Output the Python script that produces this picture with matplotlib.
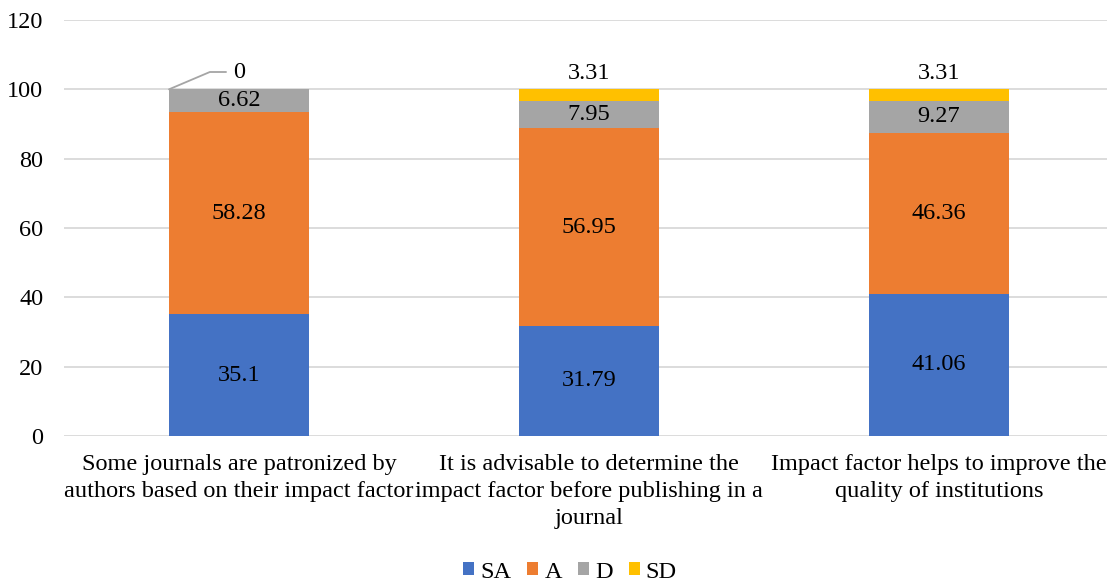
import matplotlib
matplotlib.use("Agg")
import matplotlib.pyplot as plt
import numpy as np

categories = ["Some journals are patronized by\nauthors based on their impact factor",
              "It is advisable to determine the\nimpact factor before publishing in a\njournal",
              "Impact factor helps to improve the\nquality of institutions"]
series_names = ["SA", "A", "D", "SD"]
SA = [35.1, 31.79, 41.06]
A = [58.28, 56.95, 46.36]
D = [6.62, 7.95, 9.27]
SD = [0, 3.31, 3.31]
colors = ["#4472C4", "#ED7D31", "#A5A5A5", "#FFC000"]
yticks = [0, 20, 40, 60, 80, 100, 120]

FS = 17.5
plt.rcParams['font.family'] = ['Liberation Serif', 'DejaVu Serif']
fig = plt.figure(figsize=(11.07, 5.84), dpi=100)
ax = fig.add_axes([64/1107, 1-436/584, 1050/1107, 416/584])

x = np.arange(len(categories))
width = 0.4
bottom = np.zeros(len(categories))
data = [SA, A, D, SD]
for name, vals, c in zip(series_names, data, colors):
    vals = np.array(vals)
    ax.bar(x, vals, width, bottom=bottom, color=c, label=name, zorder=2)
    for i, v in enumerate(vals):
        if name == "SD":
            if v == 0:
                top = bottom[i]
                ax.annotate(f"{v:g}", xy=(x[i]-width/2, top), xytext=(x[i], 105),
                            ha="center", va="center", fontsize=FS,
                            arrowprops=dict(arrowstyle="-", color="#A5A5A5", lw=1.3,
                                            connectionstyle="angle,angleA=0,angleB=23,rad=0",
                                            shrinkA=3, shrinkB=0))
            else:
                ax.text(x[i], 104.5, f"{v:g}", ha="center", va="center", fontsize=FS)
        else:
            ax.text(x[i], bottom[i]+v/2, f"{v:g}", ha="center", va="center", fontsize=FS)
    bottom += vals

ax.set_xlim(-0.5, 2.5)
ax.set_ylim(0, 120)
ax.set_yticks(yticks)
ax.tick_params(axis='y', length=0, labelsize=FS, pad=15)
ax.tick_params(axis='x', length=0, labelsize=FS, pad=13)
ax.set_xticks(x)
ax.set_xticklabels(categories, linespacing=1.38)
ax.yaxis.grid(True, color="#D9D9D9", lw=1.3, zorder=0)
for s in ax.spines.values():
    s.set_visible(False)

ax.legend(loc="center", bbox_to_anchor=(570/1107, 1-572/584), bbox_transform=fig.transFigure,
          ncol=4, frameon=False, fontsize=FS, handlelength=0.45, handleheight=0.45,
          handletextpad=0.25, columnspacing=0.66, borderpad=0, borderaxespad=0)

fig.savefig("out.png", dpi=100)
